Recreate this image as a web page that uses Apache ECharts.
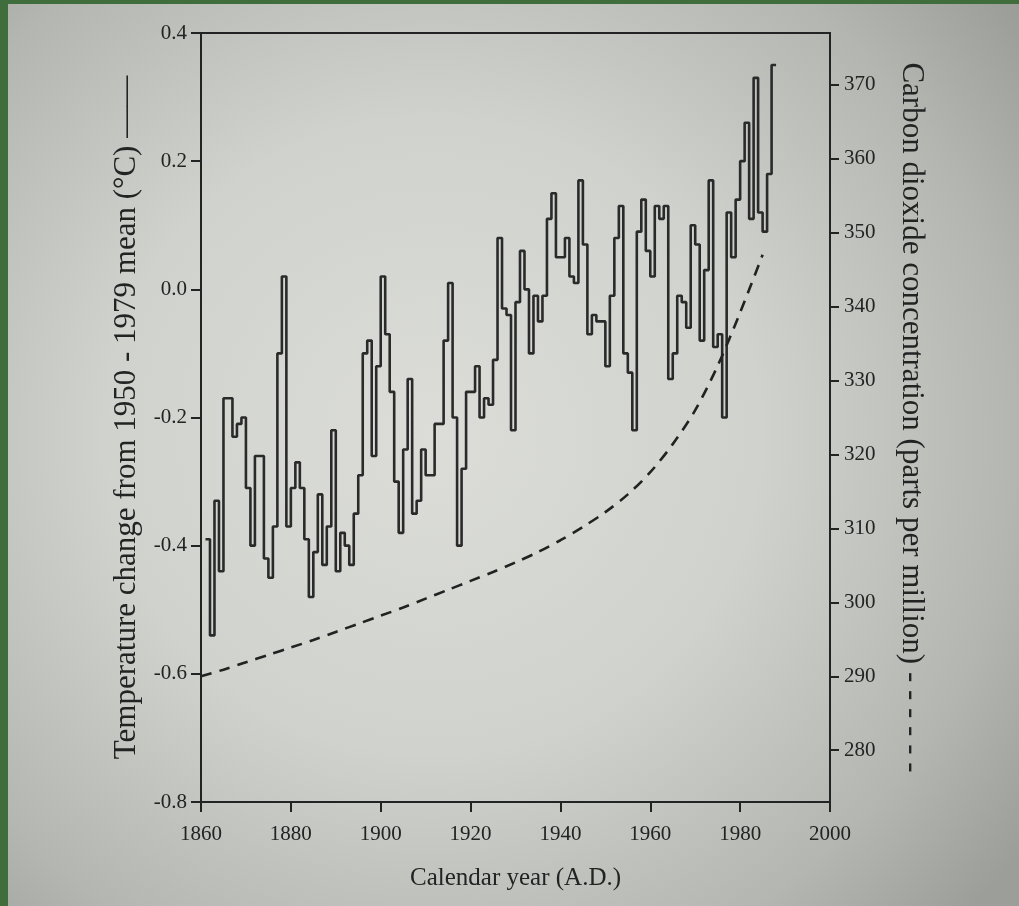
<!DOCTYPE html>
<html>
<head>
<meta charset="utf-8">
<script src="https://cdn.jsdelivr.net/npm/echarts@6/dist/echarts.min.js"></script>
<style>
  body { margin: 0; background: #3f6d3b; }
  #chart {
    position: absolute; left: 8px; top: 4px; width: 1011px; height: 902px;
    background: radial-gradient(ellipse 72% 78% at 42% 48%, #dcddd9 0%, #d0d2ce 45%, #b4b6b1 80%, #9c9e99 100%);
  }
</style>
</head>
<body>
<div id="chart"></div>
<script>
// annual temperature anomaly (°C, relative to 1950-1979 mean)
var tempStartYear = 1861;
var tempValues = [
  -0.39, -0.54, -0.33, -0.44, -0.17, -0.17, -0.23, -0.21, -0.20, -0.31,
  -0.40, -0.26, -0.26, -0.42, -0.45, -0.37, -0.10, 0.02, -0.37, -0.31,
  -0.27, -0.31, -0.39, -0.48, -0.41, -0.32, -0.43, -0.37, -0.22, -0.44,
  -0.38, -0.40, -0.43, -0.35, -0.29, -0.10, -0.08, -0.26, -0.12, 0.02,
  -0.07, -0.16, -0.30, -0.38, -0.25, -0.14, -0.35, -0.33, -0.25, -0.29,
  -0.29, -0.21, -0.21, -0.08, 0.01, -0.20, -0.40, -0.28, -0.16, -0.16,
  -0.12, -0.20, -0.17, -0.18, -0.11, 0.08, -0.03, -0.04, -0.22, -0.02,
  0.06, 0.00, -0.10, -0.01, -0.05, -0.01, 0.11, 0.15, 0.05, 0.05,
  0.08, 0.02, 0.01, 0.17, 0.07, -0.07, -0.04, -0.05, -0.05, -0.12,
  -0.01, 0.08, 0.13, -0.10, -0.13, -0.22, 0.09, 0.14, 0.06, 0.02,
  0.13, 0.11, 0.13, -0.14, -0.10, -0.01, -0.02, -0.06, 0.10, 0.07,
  -0.08, 0.03, 0.17, -0.09, -0.07, -0.20, 0.12, 0.05, 0.14, 0.20,
  0.26, 0.11, 0.33, 0.12, 0.09, 0.18, 0.35
];

// carbon dioxide concentration (ppm), every 5 years
var co2StartYear = 1860;
var co2Values = [
  290.0, 290.9, 291.9, 292.9, 293.9, 294.9, 296.0, 297.1, 298.2, 299.3,
  300.5, 301.7, 302.9, 304.1, 305.4, 306.8, 308.4, 310.2, 312.2, 314.6,
  317.6, 321.4, 326.0, 332.0, 339.2, 347.0
];

var co2Ticks = [280, 290, 300, 310, 320, 330, 340, 350, 360, 370];

var font = 'Liberation Serif';
var ink = '#232323';

var myChart = echarts.init(document.getElementById('chart'), null, {renderer: 'canvas'});

// step line: each year holds its value until the next year
var tempData = tempValues.map(function (v, i) { return [tempStartYear + i, v]; });
tempData.push([tempStartYear + tempValues.length, tempValues[tempValues.length - 1]]);

var co2Data = co2Values.map(function (v, i) { return [co2StartYear + i * 5, v]; });

var option = {
  animation: false,
  backgroundColor: 'transparent',
  grid: {
    left: 193, right: 189, top: 29, bottom: 104,
    show: true, borderColor: ink, borderWidth: 2, backgroundColor: 'transparent'
  },
  xAxis: {
    type: 'value', min: 1860, max: 2000, interval: 20,
    name: 'Calendar year (A.D.)', nameLocation: 'middle', nameGap: 64,
    nameTextStyle: {fontFamily: font, fontSize: 25, color: ink},
    axisLine: {onZero: false, lineStyle: {color: ink, width: 2}},
    axisTick: {length: 10, lineStyle: {color: ink, width: 2}},
    axisLabel: {fontFamily: font, fontSize: 21, color: ink, margin: 22,
      formatter: function (v) { return String(v); }},
    splitLine: {show: false}
  },
  yAxis: [{
    type: 'value', min: -0.8, max: 0.4, interval: 0.2, position: 'left',
    name: 'Temperature change from 1950 - 1979 mean (\u00B0C) \u2014\u2014',
    nameLocation: 'middle', nameGap: 58, nameRotate: 90,
    nameTextStyle: {fontFamily: font, fontSize: 31, color: ink},
    axisLine: {show: true, onZero: false, lineStyle: {color: ink, width: 2}},
    axisTick: {length: 10, lineStyle: {color: ink, width: 2}},
    axisLabel: {fontFamily: font, fontSize: 21, color: ink, margin: 14,
      formatter: function (v) { return v.toFixed(1); }},
    splitLine: {show: false}
  }, {
    type: 'value', min: 273, max: 377, position: 'right',
    name: 'Carbon dioxide concentration (parts per million) - - - - - -',
    nameLocation: 'middle', nameGap: 66, nameRotate: -90,
    nameTextStyle: {fontFamily: font, fontSize: 31, color: ink},
    axisLine: {show: true, onZero: false, lineStyle: {color: ink, width: 2}},
    axisTick: {length: 9, customValues: co2Ticks, lineStyle: {color: ink, width: 2}},
    axisLabel: {fontFamily: font, fontSize: 21, color: ink, margin: 14, customValues: co2Ticks},
    splitLine: {show: false}
  }],
  series: [{
    name: 'Temperature',
    type: 'line', step: 'end', yAxisIndex: 0,
    showSymbol: false, symbol: 'none',
    lineStyle: {color: '#2a2a2a', width: 2.6},
    data: tempData
  }, {
    name: 'CO2',
    type: 'line', yAxisIndex: 1, smooth: 0.3,
    showSymbol: false, symbol: 'none',
    lineStyle: {color: '#222', width: 2.6, type: [11, 8]},
    data: co2Data
  }]
};

myChart.setOption(option, true);
</script>
</body>
</html>
